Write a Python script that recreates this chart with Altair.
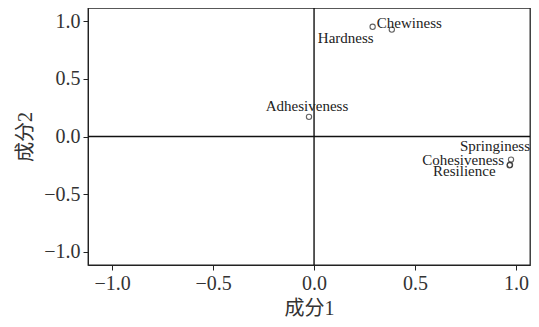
import altair as alt
import pandas as pd

names = ["Hardness", "Chewiness", "Adhesiveness", "Springiness", "Cohesiveness", "Resilience"]
comp1 = [0.29, 0.385, -0.025, 0.975, 0.97, 0.968]
comp2 = [0.95, 0.926, 0.17, -0.20, -0.245, -0.25]
ticks = [-1.0, -0.5, 0.0, 0.5, 1.0]

df = pd.DataFrame({"name": names, "c1": comp1, "c2": comp2})

FONT = "Liberation Serif, Times New Roman, Noto Sans CJK SC"
xs = alt.Scale(domain=[-1.119, 1.069], nice=False, zero=False)
ys = alt.Scale(domain=[-1.113, 1.113], nice=False, zero=False)

base = alt.Chart(df)

points = base.mark_point(shape="circle", filled=False, size=28, strokeWidth=1.1, color="#222").encode(
    x=alt.X("c1:Q", scale=xs, title="成分1",
            axis=alt.Axis(values=ticks, format=".1f", grid=False)),
    y=alt.Y("c2:Q", scale=ys, title="成分2",
            axis=alt.Axis(values=ticks, format=".1f", grid=False)),
)

zero_df = pd.DataFrame({"v": [0.0]})
vline = alt.Chart(zero_df).mark_rule(color="#111", strokeWidth=1.4).encode(x=alt.X("v:Q", scale=xs))
hline = alt.Chart(zero_df).mark_rule(color="#111", strokeWidth=1.4).encode(y=alt.Y("v:Q", scale=ys))

# label placement (style): align, dx, dy per label
label_style = {
    "Hardness": ("right", 1, 11),
    "Chewiness": ("left", -15, -7),
    "Adhesiveness": ("center", -2, -11),
    "Springiness": ("right", 19, -14),
    "Cohesiveness": ("right", -6, -5),
    "Resilience": ("right", -14, 6),
}

labels = []
for n in names:
    a, dx, dy = label_style[n]
    labels.append(
        base.transform_filter(alt.datum.name == n).mark_text(
            align=a, baseline="middle", dx=dx, dy=dy, font=FONT, fontSize=15, color="#222"
        ).encode(x=alt.X("c1:Q", scale=xs), y=alt.Y("c2:Q", scale=ys), text="name:N")
    )

chart = alt.layer(vline, hline, points, *labels).properties(
    width=442, height=257,
    background="white",
    autosize=alt.AutoSizeParams(type="none"),
    padding={"left": 80, "top": 0, "right": 1, "bottom": 54},
).configure_view(stroke="#222", strokeWidth=1.3).configure_axis(
    labelFont=FONT, titleFont=FONT, labelFontSize=20, titleFontSize=20,
    labelColor="#333", titleColor="#333", titleFontWeight="normal",
    domainColor="#222", tickColor="#222", tickSize=5, labelPadding=3,
).configure_axisY(titlePadding=8).configure_axisX(titlePadding=5)

chart.save("out.html", embed_options={"renderer": "svg", "actions": False})
